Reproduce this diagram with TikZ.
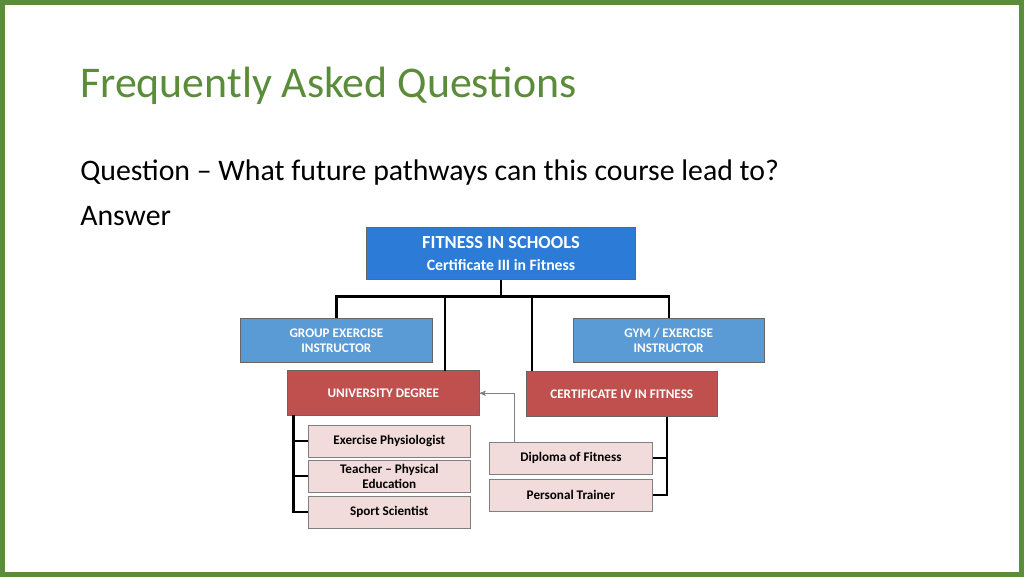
\documentclass[tikz,border=0pt]{standalone}
\usepackage{fontspec}
\setmainfont{Carlito}
\usetikzlibrary{positioning,arrows}
\definecolor{frame}{HTML}{5B8C3A}
\definecolor{topblue}{HTML}{2C7BD6}
\definecolor{midblue}{HTML}{5B9BD5}
\definecolor{redbox}{HTML}{C0504D}
\definecolor{pinkbox}{HTML}{F2DCDB}
\begin{document}
\begin{tikzpicture}[
  x=0.02cm, y=-0.02cm,
  top/.style={rectangle,draw=black!60,fill=topblue,text=white,font=\bfseries\fontsize{10.5}{12}\selectfont,align=center,minimum width=5.4cm,minimum height=1.04cm,inner sep=1pt},
  blue/.style={rectangle,draw=black!60,fill=midblue,text=white,font=\bfseries\fontsize{7.5}{8.5}\selectfont,align=center,minimum width=3.84cm,minimum height=0.9cm,inner sep=1pt},
  red/.style={rectangle,draw=black!60,fill=redbox,text=white,font=\bfseries\fontsize{7.5}{8.5}\selectfont,align=center,minimum width=3.84cm,minimum height=0.9cm,inner sep=1pt},
  pink/.style={rectangle,draw=black!50,fill=pinkbox,font=\bfseries\fontsize{7.5}{8.5}\selectfont,align=center,minimum width=3.26cm,minimum height=0.64cm,inner sep=1pt},
  link/.style={line width=1.3pt,black}
]
  \draw[frame,line width=3pt,fill=white] (1.5,1.5) rectangle (1022.5,574.5);
  \useasboundingbox (0,0) rectangle (1024,576);

  % title and question
  \node[anchor=west,text=frame,font=\fontsize{25}{30}\selectfont,inner sep=0pt] (title) at (79,85) {Frequently Asked Questions};
  \node[anchor=west,font=\fontsize{17}{20}\selectfont,inner sep=0pt] (quest) at (79,172) {Question -- What future pathways can this course lead to?};
  \node[anchor=west,font=\fontsize{17}{20}\selectfont,inner sep=0pt] (answ) at (79,215) {Answer};

  % boxes
  \node[top] (fis) at (501,253) {FITNESS IN SCHOOLS\\[1pt]{\fontsize{9}{10}\selectfont Certificate III in Fitness}};
  \node[blue] (group) at (336,340) {GROUP EXERCISE\\INSTRUCTOR};
  \node[blue] (gym) at (669,340) {GYM / EXERCISE\\INSTRUCTOR};
  \node[red] (uni) at (383,393) {UNIVERSITY DEGREE};
  \node[red] (cert) at (622,394) {CERTIFICATE IV IN FITNESS};
  \node[pink] (phys) at (389,441) {Exercise Physiologist};
  \node[pink] (teach) at (389,476) {Teacher -- Physical\\Education};
  \node[pink] (sport) at (389,512) {Sport Scientist};
  \node[pink] (dipl) at (571,458) {Diploma of Fitness};
  \node[pink] (pers) at (571,495) {Personal Trainer};

  % connectors
  \coordinate (hub) at (501,296);
  \draw[link] (fis.south) -- (hub);
  \draw[link] (group.north) |- (hub) -| (gym.north);
  \draw[link] (hub -| 445,0) -- (445,371);
  \draw[link] (hub -| 532,0) -- (532,371);
  \draw[link] (293,415) |- (sport.west);
  \draw[link] (293,441) -- (phys.west);
  \draw[link] (293,476) -- (teach.west);
  \draw[link] (667,417) |- (pers.east);
  \draw[link] (667,458) -- (dipl.east);
  \draw[black!50,->,>=stealth'] (dipl.north -| 514,0) |- (uni.east);
\end{tikzpicture}
\end{document}
